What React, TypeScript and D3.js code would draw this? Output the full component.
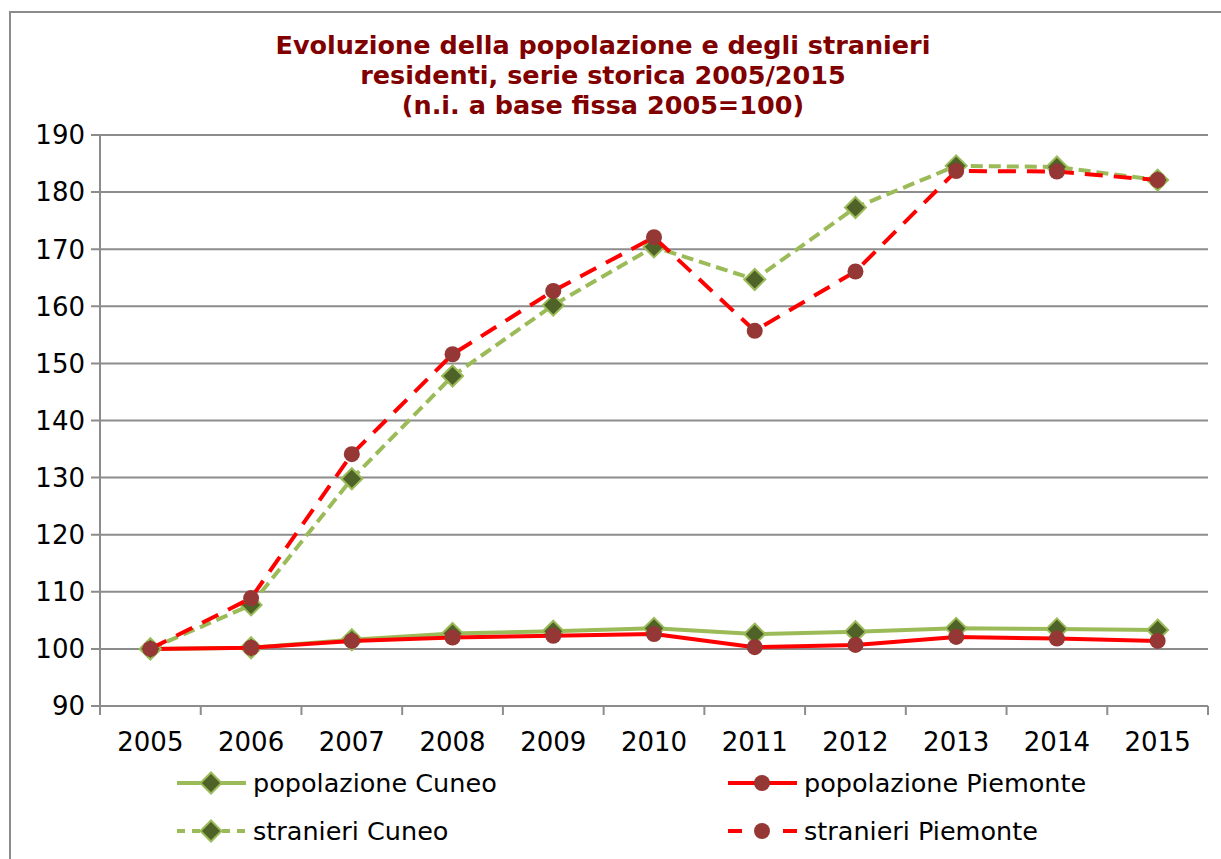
import React from 'react';
import * as d3 from 'd3';

const YEARS = ['2005', '2006', '2007', '2008', '2009', '2010', '2011', '2012', '2013', '2014', '2015'];
const POP_CUNEO = [100, 100.2, 101.6, 102.7, 103.1, 103.6, 102.6, 103.0, 103.6, 103.5, 103.3];
const POP_PIEMONTE = [100, 100.2, 101.4, 102.0, 102.3, 102.6, 100.3, 100.7, 102.1, 101.8, 101.4];
const STR_CUNEO = [100, 107.7, 129.8, 147.8, 160.2, 170.4, 164.7, 177.3, 184.6, 184.4, 182.1];
const STR_PIEMONTE = [100, 108.9, 134.1, 151.6, 162.7, 172.1, 155.7, 166.1, 183.7, 183.6, 182.1];
const Y_TICKS = [90, 100, 110, 120, 130, 140, 150, 160, 170, 180, 190];
const TITLE = [
    'Evoluzione della popolazione e degli stranieri',
    'residenti, serie storica 2005/2015',
    '(n.i. a base fissa 2005=100)',
];

const GREEN = '#9bbb59';
const DARK_GREEN = '#4f6228';
const RED = '#ff0000';
const BROWN = '#953735';
const GRID = '#8c8c8c';
const FONT = '"DejaVu Sans", Verdana, sans-serif';

const SERIES = [
    { name: 'popolazione Cuneo', values: POP_CUNEO, color: GREEN, dash: null, legendDash: null, marker: 'diamond' },
    { name: 'popolazione Piemonte', values: POP_PIEMONTE, color: RED, dash: null, legendDash: null, marker: 'circle' },
    { name: 'stranieri Cuneo', values: STR_CUNEO, color: GREEN, dash: '12,6', legendDash: '8,7', marker: 'diamond' },
    { name: 'stranieri Piemonte', values: STR_PIEMONTE, color: RED, dash: '18,11', legendDash: '14,41,14', marker: 'circle' },
];

const Marker = ({ type, cx, cy }: { type: string; cx: number; cy: number }) => {
    if (type === 'diamond') {
        const s = 10.5;
        return (
            <path
                d={`M${cx},${cy - s}L${cx + s},${cy}L${cx},${cy + s}L${cx - s},${cy}Z`}
                fill={DARK_GREEN}
                stroke={GREEN}
                strokeWidth={2}
            />
        );
    }
    return <circle cx={cx} cy={cy} r={8} fill={BROWN} />;
};

export default function App() {
    const width = 1221;
    const height = 859;

    const x = d3.scaleBand().domain(YEARS).range([100, 1208]).padding(0);
    const cx = (d: string) => (x(d) as number) + x.bandwidth() / 2;
    const y = d3.scaleLinear().domain([90, 190]).range([706, 135]);

    const line = d3.line<number>()
        .x((_, i) => cx(YEARS[i]))
        .y(v => y(v));

    const boundaries = [...YEARS.map(d => x(d) as number), 1208];

    const legendPos = [
        { x: 177, y: 783 },
        { x: 728, y: 783 },
        { x: 177, y: 831 },
        { x: 728, y: 831 },
    ];

    return (
        <svg width={width} height={height} style={{ position: 'absolute', left: 0, top: 0, background: '#fff' }}>
            <rect x={10} y={12} width={1240} height={880} fill="#fff" stroke={GRID} strokeWidth={2} />

            {/* Title */}
            {TITLE.map((t, i) => (
                <text key={i} x={603} y={54 + i * 30} textAnchor="middle"
                    fontFamily={FONT} fontWeight="bold" fontSize={25.5} fill="#800000">{t}</text>
            ))}

            {/* Grid lines + y ticks */}
            {Y_TICKS.map(t => (
                <g key={t}>
                    <line x1={91} x2={1208} y1={y(t)} y2={y(t)} stroke={GRID} strokeWidth={2} />
                    <text x={85} y={y(t)} dy="0.36em" textAnchor="end" fontFamily={FONT} fontSize={26} fill="#000">{t}</text>
                </g>
            ))}

            {/* Axes */}
            <line x1={100} x2={100} y1={135} y2={706} stroke={GRID} strokeWidth={2} />
            {boundaries.map((b, i) => (
                <line key={i} x1={b} x2={b} y1={706} y2={715} stroke={GRID} strokeWidth={2} />
            ))}
            {YEARS.map(d => (
                <text key={d} x={cx(d)} y={751} textAnchor="middle" fontFamily={FONT} fontSize={26} fill="#000">{d}</text>
            ))}

            {/* Series */}
            {SERIES.map(s => (
                <g key={s.name}>
                    <path d={line(s.values) || ''} fill="none" stroke={s.color} strokeWidth={4}
                        strokeDasharray={s.dash || undefined} strokeLinejoin="round" />
                    {s.values.map((v, i) => (
                        <Marker key={i} type={s.marker} cx={cx(YEARS[i])} cy={y(v)} />
                    ))}
                </g>
            ))}

            {/* Legend */}
            {SERIES.map((s, i) => {
                const p = legendPos[i];
                return (
                    <g key={s.name}>
                        <line x1={p.x} x2={p.x + 69} y1={p.y} y2={p.y} stroke={s.color} strokeWidth={4}
                            strokeDasharray={s.legendDash || undefined} />
                        <Marker type={s.marker} cx={p.x + 34} cy={p.y} />
                        <text x={p.x + 76} y={p.y + 9} fontFamily={FONT} fontSize={25.5} fill="#000">{s.name}</text>
                    </g>
                );
            })}
        </svg>
    );
}
